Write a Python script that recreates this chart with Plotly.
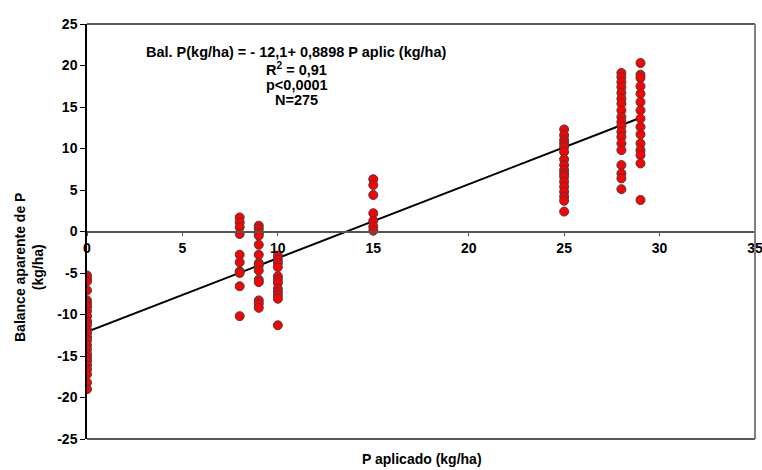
import plotly.graph_objects as go

# Data
x0_vals = [-5.3, -5.7, -6.0, -7.1, -8.3, -8.7, -9.1, -9.6, -10.2, -10.8, -11.2, -11.8, -12.2,
           -12.7, -13.1, -13.7, -14.2, -14.8, -15.2, -15.6, -16.1, -16.6, -17.2, -18.2, -19.0]
x8_vals = [1.7, 1.1, 0.5, -0.3, -2.8, -3.7, -4.8, -5.0, -6.6, -10.2]
x9_vals = [0.7, 0.3, -0.2, -0.5, -1.6, -2.8, -3.8, -4.1, -4.7, -5.8, -6.1, -8.3, -8.7, -9.2]
x10_vals = [-2.9, -3.4, -3.8, -4.3, -5.4, -5.8, -6.2, -6.9, -7.3, -7.7, -8.1, -11.3]
x15_vals = [6.3, 5.6, 4.4, 2.2, 1.3, 0.6, 0.1]
x25_vals = [12.3, 11.6, 11.0, 10.6, 10.2, 9.6, 8.7, 8.0, 7.4, 7.0, 6.6, 6.0, 5.4, 4.8, 4.2, 3.7, 2.4]
x28_vals = [19.1, 18.6, 18.0, 17.4, 16.7, 16.0, 15.4, 14.6, 13.8, 13.2, 12.7, 12.0, 11.4,
            10.6, 9.8, 8.0, 7.0, 6.4, 5.1]
x29_vals = [20.3, 18.9, 18.5, 17.5, 16.6, 15.6, 14.6, 13.6, 12.6, 11.7, 10.6, 9.8, 9.2, 8.2, 3.8]

groups = {0: x0_vals, 8: x8_vals, 9: x9_vals, 10: x10_vals, 15: x15_vals,
          25: x25_vals, 28: x28_vals, 29: x29_vals}

intercept = -12.1
slope = 0.8898
line_x = [0, 29]

x_ticks = [0, 5, 10, 15, 20, 25, 30, 35]
y_ticks = [-25, -20, -15, -10, -5, 0, 5, 10, 15, 20, 25]
y_tick_labels = ["-25", "-20", "-15", "-10", "-5", "0", "5", "10", "15", "20", "25"]

eq_lines = ["Bal. P(kg/ha) = - 12,1+ 0,8898 P aplic (kg/ha)",
            "R<sup>2</sup> = 0,91",
            "p<0,0001",
            "N=275"]

xs, ys = [], []
for k, vals in groups.items():
    xs += [k] * len(vals)
    ys += vals

FONT = "Liberation Sans, Arial, sans-serif"
BOLD = dict(family=FONT, size=14, color="black", weight="bold")
EQ = dict(family=FONT, size=14.5, color="black", weight="bold")

fig = go.Figure()
fig.add_trace(go.Scatter(
    x=line_x, y=[intercept + slope * v for v in line_x], mode="lines",
    line=dict(color="black", width=2), showlegend=False, hoverinfo="skip"))
fig.add_trace(go.Scatter(
    x=xs, y=ys, mode="markers",
    marker=dict(color="#ff0000", size=9, line=dict(color="#404040", width=1)),
    showlegend=False))

annotations = []
eq_y = [52, 69, 85, 100]  # pixel rows of the equation lines
for txt, py in zip(eq_lines, eq_y):
    annotations.append(dict(text=txt, xref="x", yref="paper", x=11.0,
                            y=(439 - py) / 415, xanchor="center", yanchor="middle",
                            showarrow=False, font=EQ))
annotations.append(dict(text="P aplicado (kg/ha)", xref="paper", yref="paper",
                        x=(422 - 87) / 668, y=-20 / 415, xanchor="center", yanchor="middle",
                        showarrow=False, font=BOLD))
annotations.append(dict(text="Balance aparente de P<br>(kg/ha)", xref="paper", yref="paper",
                        x=(29 - 87) / 668, y=(439 - 268) / 415, xanchor="center",
                        yanchor="middle", textangle=-90, showarrow=False, font=BOLD))

fig.update_layout(
    width=762, height=470,
    margin=dict(l=87, r=7, t=24, b=31, autoexpand=False),
    paper_bgcolor="white", plot_bgcolor="white",
    font=dict(family=FONT, color="black"),
    xaxis=dict(range=[0, 35], tickvals=x_ticks, showgrid=False, zeroline=False,
               showline=True, linecolor="#555555", linewidth=1.5,
               ticks="outside", ticklen=4, tickcolor="#555555",
               anchor="free", position=0.5, automargin=False,
               ticklabeloverflow="allow", tickfont=BOLD),
    yaxis=dict(range=[-25, 25], tickvals=y_ticks, ticktext=y_tick_labels,
               showgrid=False, zeroline=False,
               showline=True, linecolor="black", linewidth=1.5,
               ticks="outside", ticklen=5, tickcolor="black", automargin=False,
               tickfont=BOLD),
    shapes=[
        dict(type="line", xref="paper", yref="paper", x0=0, x1=1, y0=1, y1=1,
             line=dict(color="#222222", width=1.5)),
        dict(type="line", xref="paper", yref="paper", x0=0, x1=1, y0=0, y1=0,
             line=dict(color="#222222", width=1.5)),
        dict(type="line", xref="paper", yref="paper", x0=1, x1=1, y0=0, y1=1,
             line=dict(color="#808080", width=2)),
    ],
    annotations=annotations,
)

fig.write_html("out.html", config={"displayModeBar": False},
               post_script="document.body.style.margin='0';document.body.style.overflow='hidden';")
